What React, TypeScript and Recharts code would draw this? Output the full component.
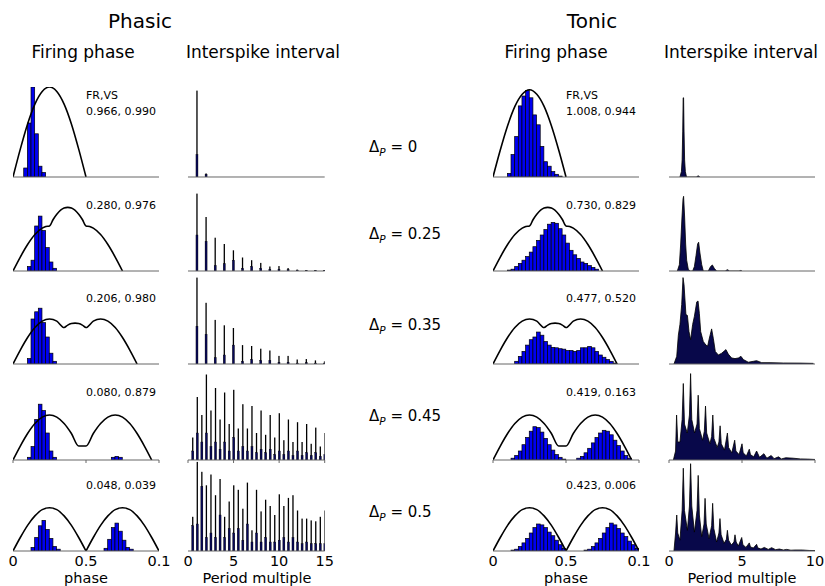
import React from "react";
import { ComposedChart, Bar, Line, Area, XAxis, YAxis } from "recharts";

const FONT = '"DejaVu Sans", "Liberation Sans", sans-serif';

// layout of the 5 rows (pixel baselines) and the 4 columns
const ROW_BASELINES = [177, 271, 364, 460, 551];
const PANEL_H = 90;
const PHASE_W = 146;
const PHASIC_PHASE_X = 13;
const TONIC_PHASE_X = 493;
const PHASIC_ISI_X = 188.3;
const PHASIC_ISI_W = 136.7;
const TONIC_ISI_X = 669;
const TONIC_ISI_W = 146;

const PHASE_TICKS = [0, 0.5, 1];
const PHASE_TICK_LABELS = ["0", "0.5", "0.1"];
const PHASIC_ISI_TICKS = [0, 5, 10, 15];
const TONIC_ISI_TICKS = [0, 5, 10];

const DELTA_VALUES = ["0", "0.25", "0.35", "0.45", "0.5"];
const DELTA_Y = [149, 236, 327, 418, 514];
const FRVS_Y = [111, 205, 298, 392, 485];
const PHASIC_FRVS = ["0.966, 0.990", "0.280, 0.976", "0.206, 0.980", "0.080, 0.879", "0.048, 0.039"];
const TONIC_FRVS = ["1.008, 0.944", "0.730, 0.829", "0.477, 0.520", "0.419, 0.163", "0.423, 0.006"];

// driving input curves, [phase, rate]
const DRIVE_0_P = [[0, 0], [0.05, 0.31], [0.1, 0.59], [0.15, 0.81], [0.2, 0.95], [0.25, 1.0], [0.3, 0.95], [0.35, 0.81], [0.4, 0.59], [0.45, 0.31], [0.5, 0]];
const DRIVE_0_T = [[0, 0], [0.05, 0.3], [0.1, 0.57], [0.15, 0.785], [0.2, 0.92], [0.25, 0.97], [0.3, 0.92], [0.35, 0.785], [0.4, 0.57], [0.45, 0.3], [0.5, 0]];
const DRIVE_25 = [[0, 0], [0.05, 0.155], [0.1, 0.294], [0.15, 0.405], [0.2, 0.476], [0.225, 0.494], [0.25, 0.5], [0.275, 0.572], [0.3, 0.63], [0.35, 0.699], [0.375, 0.707], [0.4, 0.699], [0.45, 0.63], [0.475, 0.572], [0.5, 0.5], [0.525, 0.494], [0.55, 0.476], [0.6, 0.405], [0.65, 0.294], [0.7, 0.155], [0.75, 0]];
const DRIVE_35 = [[0, 0], [0.05, 0.155], [0.1, 0.294], [0.15, 0.405], [0.2, 0.476], [0.25, 0.5], [0.3, 0.476], [0.35, 0.405], [0.375, 0.432], [0.4, 0.449], [0.425, 0.454], [0.45, 0.449], [0.475, 0.432], [0.5, 0.405], [0.55, 0.476], [0.6, 0.5], [0.65, 0.476], [0.7, 0.405], [0.75, 0.294], [0.8, 0.155], [0.85, 0]];
const DRIVE_45 = [[0, 0], [0.05, 0.155], [0.1, 0.294], [0.15, 0.405], [0.2, 0.476], [0.25, 0.5], [0.3, 0.476], [0.35, 0.405], [0.4, 0.294], [0.45, 0.155], [0.475, 0.156], [0.5, 0.155], [0.55, 0.294], [0.6, 0.405], [0.65, 0.476], [0.7, 0.5], [0.75, 0.476], [0.8, 0.405], [0.85, 0.294], [0.9, 0.155], [0.95, 0]];
const DRIVE_50_A = [[0, 0], [0.05, 0.15], [0.1, 0.285], [0.15, 0.39], [0.2, 0.46], [0.25, 0.48], [0.3, 0.46], [0.35, 0.39], [0.4, 0.285], [0.45, 0.15], [0.5, 0]];
const DRIVE_50_B = [[0.5, 0], [0.55, 0.15], [0.6, 0.285], [0.65, 0.39], [0.7, 0.46], [0.75, 0.48], [0.8, 0.46], [0.85, 0.39], [0.9, 0.285], [0.95, 0.15], [1, 0]];

// firing phase histograms, [bin centre, height]
const HIST_P0 = [[0.0875, 0.1], [0.1125, 0.6], [0.1375, 1.0], [0.1625, 0.48], [0.1875, 0.12], [0.2125, 0.05]];
const HIST_P25 = [[0.1125, 0.05], [0.1375, 0.12], [0.1625, 0.5], [0.1875, 0.61], [0.2125, 0.45], [0.2375, 0.26], [0.2625, 0.1], [0.2875, 0.03]];
const HIST_P35 = [[0.1125, 0.06], [0.1375, 0.5], [0.1625, 0.58], [0.1875, 0.62], [0.2125, 0.46], [0.2375, 0.3], [0.2625, 0.12], [0.2875, 0.03]];
const HIST_P45 = [[0.1125, 0.03], [0.1375, 0.15], [0.1625, 0.45], [0.1875, 0.62], [0.2125, 0.55], [0.2375, 0.3], [0.2625, 0.1], [0.2875, 0.03], [0.6875, 0.03], [0.7125, 0.04], [0.7375, 0.03]];
const HIST_P50 = [[0.1375, 0.04], [0.1625, 0.15], [0.1875, 0.28], [0.2125, 0.34], [0.2375, 0.24], [0.2625, 0.14], [0.2875, 0.05], [0.3125, 0.02], [0.6375, 0.03], [0.6625, 0.13], [0.6875, 0.26], [0.7125, 0.31], [0.7375, 0.22], [0.7625, 0.12], [0.7875, 0.04], [0.8125, 0.02]];

const HIST_T0 = [[0.1125, 0.04], [0.1375, 0.25], [0.1625, 0.45], [0.1875, 0.79], [0.2125, 0.9], [0.2375, 0.96], [0.2625, 0.88], [0.2875, 0.69], [0.3125, 0.58], [0.3375, 0.34], [0.3625, 0.17], [0.3875, 0.12], [0.4125, 0.06], [0.4375, 0.03], [0.4625, 0.01]];
const HIST_T25 = [[0.1125, 0.01], [0.1375, 0.02], [0.1625, 0.05], [0.1875, 0.085], [0.2125, 0.12], [0.2375, 0.16], [0.2625, 0.21], [0.2875, 0.27], [0.3125, 0.34], [0.3375, 0.4], [0.3625, 0.46], [0.3875, 0.52], [0.4125, 0.54], [0.4375, 0.53], [0.4625, 0.47], [0.4875, 0.4], [0.5125, 0.31], [0.5375, 0.23], [0.5625, 0.18], [0.5875, 0.14], [0.6125, 0.1], [0.6375, 0.085], [0.6625, 0.06], [0.6875, 0.04], [0.7125, 0.02]];
const HIST_T35 = [[0.1625, 0.03], [0.1875, 0.085], [0.2125, 0.14], [0.2375, 0.21], [0.2625, 0.27], [0.2875, 0.3], [0.3125, 0.355], [0.3375, 0.32], [0.3625, 0.25], [0.3875, 0.21], [0.4125, 0.185], [0.4375, 0.18], [0.4625, 0.17], [0.4875, 0.165], [0.5125, 0.15], [0.5375, 0.15], [0.5625, 0.14], [0.5875, 0.15], [0.6125, 0.18], [0.6375, 0.18], [0.6625, 0.195], [0.6875, 0.18], [0.7125, 0.14], [0.7375, 0.1], [0.7625, 0.075], [0.7875, 0.05], [0.8125, 0.03], [0.8375, 0.01]];
const HIST_T45 = [[0.1375, 0.02], [0.1625, 0.05], [0.1875, 0.1], [0.2125, 0.17], [0.2375, 0.25], [0.2625, 0.32], [0.2875, 0.37], [0.3125, 0.36], [0.3375, 0.31], [0.3625, 0.24], [0.3875, 0.17], [0.4125, 0.11], [0.4375, 0.06], [0.4625, 0.03], [0.4875, 0.01], [0.5875, 0.02], [0.6125, 0.04], [0.6375, 0.08], [0.6625, 0.13], [0.6875, 0.19], [0.7125, 0.25], [0.7375, 0.3], [0.7625, 0.33], [0.7875, 0.32], [0.8125, 0.28], [0.8375, 0.22], [0.8625, 0.16], [0.8875, 0.1], [0.9125, 0.05], [0.9375, 0.02]];
const HIST_T50 = [[0.1375, 0.01], [0.1625, 0.02], [0.1875, 0.05], [0.2125, 0.09], [0.2375, 0.14], [0.2625, 0.2], [0.2875, 0.26], [0.3125, 0.3], [0.3375, 0.29], [0.3625, 0.26], [0.3875, 0.21], [0.4125, 0.17], [0.4375, 0.12], [0.4625, 0.07], [0.4875, 0.03], [0.6375, 0.01], [0.6625, 0.02], [0.6875, 0.05], [0.7125, 0.09], [0.7375, 0.14], [0.7625, 0.2], [0.7875, 0.26], [0.8125, 0.31], [0.8375, 0.29], [0.8625, 0.25], [0.8875, 0.2], [0.9125, 0.16], [0.9375, 0.11], [0.9625, 0.07], [0.9875, 0.03]];

// phasic interspike intervals, [period multiple, peak, lower (blue) part]
const ISI_P0 = [[1, 0.96, 0.25], [2, 0.04, 0.03]];
const ISI_P25 = [[1, 0.86, 0.4], [2, 0.6, 0.33], [3, 0.37, 0.06], [4, 0.3, 0.08], [5, 0.23, 0.12], [6, 0.15, 0.03], [7, 0.12, 0.05], [8, 0.09, 0.03], [9, 0.05, 0.02], [10, 0.055, 0.02], [11, 0.033, 0.015], [12, 0.015, 0.01], [13, 0.011, 0.008], [14, 0.011, 0.008], [15, 0.011, 0.008]];
const ISI_P35 = [[1, 0.96, 0.42], [2, 0.68, 0.33], [3, 0.49, 0.07], [4, 0.43, 0.1], [5, 0.4, 0.21], [6, 0.21, 0.03], [7, 0.2, 0.05], [8, 0.17, 0.04], [9, 0.15, 0.04], [10, 0.09, 0.02], [11, 0.09, 0.02], [12, 0.05, 0.01], [13, 0.055, 0.015], [14, 0.04, 0.01], [15, 0.03, 0.01]];
const ISI_P45 = [[0.5, 0.25, 0.1], [1, 0.7, 0.3], [1.5, 0.5, 0.2], [2, 0.95, 0.3], [2.5, 0.55, 0.15], [3, 0.8, 0.2], [3.5, 0.45, 0.12], [4, 0.75, 0.2], [4.5, 0.4, 0.1], [5, 0.78, 0.25], [5.5, 0.35, 0.1], [6, 0.62, 0.15], [6.5, 0.35, 0.1], [7, 0.6, 0.15], [7.5, 0.3, 0.08], [8, 0.55, 0.12], [8.5, 0.28, 0.08], [9, 0.5, 0.12], [9.5, 0.25, 0.06], [10, 0.52, 0.1], [10.5, 0.22, 0.06], [11, 0.45, 0.1], [11.5, 0.2, 0.05], [12, 0.42, 0.1], [12.5, 0.2, 0.05], [13, 0.4, 0.08], [13.5, 0.18, 0.05], [14, 0.36, 0.08], [14.5, 0.15, 0.04], [15, 0.3, 0.06]];
const ISI_P50 = [[0.5, 0.38, 0.28], [1, 0.99, 0.3], [1.5, 0.88, 0.72], [2, 0.73, 0.15], [2.5, 0.85, 0.2], [3, 0.62, 0.15], [3.5, 0.8, 0.4], [4, 0.38, 0.15], [4.5, 0.55, 0.25], [5, 0.73, 0.2], [5.5, 0.68, 0.25], [6, 0.47, 0.12], [6.5, 0.76, 0.3], [7, 0.23, 0.1], [7.5, 0.68, 0.2], [8, 0.44, 0.1], [8.5, 0.57, 0.15], [9, 0.5, 0.1], [9.5, 0.4, 0.1], [10, 0.63, 0.12], [10.5, 0.5, 0.15], [11, 0.59, 0.1], [11.5, 0.62, 0.15], [12, 0.45, 0.1], [12.5, 0.36, 0.08], [13, 0.36, 0.1], [13.5, 0.34, 0.08], [14, 0.33, 0.08], [14.5, 0.38, 0.08], [15, 0.45, 0.08]];

// tonic interspike intervals, outline [period multiple, height]
const ISI_T0 = [[0.75, 0], [0.85, 0.06], [0.9, 0.19], [0.94, 0.51], [0.97, 0.88], [1.0, 0.88], [1.03, 0.51], [1.07, 0.19], [1.12, 0.06], [1.2, 0], [1.9, 0], [1.96, 0.012], [2.04, 0.012], [2.1, 0]];
const ISI_T25 = [[0.57, 0], [0.71, 0.07], [0.8, 0.3], [0.89, 0.6], [0.96, 0.8], [1.0, 0.83], [1.07, 0.6], [1.14, 0.3], [1.21, 0.12], [1.32, 0.02], [1.45, 0], [1.62, 0], [1.74, 0.05], [1.85, 0.17], [1.96, 0.3], [2.03, 0.32], [2.12, 0.2], [2.24, 0.07], [2.35, 0], [2.69, 0], [2.85, 0.05], [2.97, 0.067], [3.1, 0.03], [3.26, 0], [3.85, 0], [4.0, 0.015], [4.15, 0], [4.8, 0], [4.9, 0.006], [5.0, 0]];
const ISI_T35 = [[0.34, 0], [0.53, 0.085], [0.64, 0.32], [0.75, 0.44], [0.87, 0.66], [0.96, 0.96], [1.03, 0.88], [1.16, 0.55], [1.26, 0.54], [1.37, 0.36], [1.48, 0.27], [1.62, 0.44], [1.74, 0.53], [1.9, 0.69], [1.99, 0.7], [2.08, 0.56], [2.17, 0.36], [2.35, 0.25], [2.53, 0.21], [2.65, 0.2], [2.74, 0.27], [2.83, 0.33], [2.92, 0.39], [3.04, 0.28], [3.17, 0.14], [3.38, 0.1], [3.61, 0.12], [3.9, 0.16], [4.06, 0.11], [4.29, 0.067], [4.52, 0.06], [4.75, 0.067], [4.93, 0.085], [5.09, 0.05], [5.43, 0.02], [5.78, 0.03], [6.0, 0.037], [6.35, 0.015], [6.92, 0.015], [7.83, 0.011], [8.97, 0.01], [9.89, 0.007]];
const ISI_T45 = [[0.3, 0], [0.45, 0.1], [0.52, 0.5], [0.6, 0.2], [0.75, 0.2], [0.9, 0.45], [0.98, 0.85], [1.06, 0.4], [1.25, 0.3], [1.4, 0.5], [1.48, 0.96], [1.56, 0.45], [1.75, 0.3], [1.92, 0.4], [2.0, 0.72], [2.08, 0.35], [2.3, 0.22], [2.42, 0.32], [2.5, 0.6], [2.58, 0.3], [2.8, 0.18], [2.92, 0.26], [3.0, 0.5], [3.08, 0.24], [3.3, 0.14], [3.42, 0.2], [3.5, 0.38], [3.58, 0.18], [3.8, 0.11], [4.0, 0.3], [4.08, 0.14], [4.3, 0.08], [4.5, 0.22], [4.58, 0.1], [4.8, 0.06], [5.0, 0.18], [5.08, 0.08], [5.3, 0.045], [5.5, 0.12], [5.58, 0.06], [5.8, 0.035], [6.0, 0.1], [6.2, 0.03], [6.5, 0.07], [6.7, 0.02], [7.0, 0.05], [7.2, 0.015], [7.5, 0.035], [7.7, 0.012], [8.0, 0.025], [8.5, 0.02], [9.0, 0.012], [9.5, 0.01], [10, 0.006]];
const ISI_T50 = [[0.34, 0], [0.45, 0.2], [0.53, 0.4], [0.6, 0.2], [0.75, 0.12], [0.9, 0.45], [0.98, 0.92], [1.06, 0.45], [1.26, 0.23], [1.4, 0.5], [1.48, 0.97], [1.56, 0.5], [1.74, 0.21], [1.92, 0.45], [2.0, 0.84], [2.08, 0.4], [2.24, 0.16], [2.4, 0.3], [2.47, 0.585], [2.55, 0.3], [2.74, 0.14], [2.92, 0.28], [2.99, 0.53], [3.07, 0.25], [3.26, 0.1], [3.42, 0.2], [3.49, 0.36], [3.57, 0.18], [3.77, 0.085], [3.93, 0.13], [4.0, 0.23], [4.08, 0.12], [4.27, 0.067], [4.45, 0.1], [4.52, 0.18], [4.6, 0.1], [4.75, 0.055], [4.98, 0.15], [5.06, 0.07], [5.27, 0.04], [5.5, 0.09], [5.58, 0.045], [5.78, 0.033], [6.0, 0.074], [6.08, 0.035], [6.3, 0.022], [6.53, 0.04], [6.8, 0.018], [7.03, 0.037], [7.3, 0.015], [7.56, 0.022], [7.83, 0.011], [8.06, 0.018], [8.35, 0.009], [8.63, 0.011], [9.13, 0.011], [9.6, 0.006], [10, 0.005]];

const PHASIC_CURVES = [[DRIVE_0_P], [DRIVE_25], [DRIVE_35], [DRIVE_45], [DRIVE_50_A, DRIVE_50_B]];
const TONIC_CURVES = [[DRIVE_0_T], [DRIVE_25], [DRIVE_35], [DRIVE_45], [DRIVE_50_A, DRIVE_50_B]];
const PHASIC_HISTS = [HIST_P0, HIST_P25, HIST_P35, HIST_P45, HIST_P50];
const TONIC_HISTS = [HIST_T0, HIST_T25, HIST_T35, HIST_T45, HIST_T50];
const PHASIC_ISIS = [ISI_P0, ISI_P25, ISI_P35, ISI_P45, ISI_P50];
const TONIC_ISIS = [ISI_T0, ISI_T25, ISI_T35, ISI_T45, ISI_T50];

const BIN_PX = PHASE_W * 0.025;

function histShape(p: any) {
  const { x, y, width, height } = p;
  if (!(height > 0)) return <g />;
  const cx = x + width / 2;
  return <rect x={cx - BIN_PX / 2} y={y} width={BIN_PX} height={height} fill="#0000f0" stroke="#000" strokeWidth={0.7} />;
}

function spikeShape(p: any) {
  const { x, y, width, height, payload } = p;
  if (!(height > 0)) return <g />;
  const cx = x + width / 2;
  const mh = height * (payload.mid / payload.tall);
  return (
    <g>
      <rect x={cx - 0.65} y={y} width={1.3} height={height} fill="#000" />
      <rect x={cx - 1.0} y={y + height - mh} width={2.0} height={mh} fill="#08085a" stroke="#000" strokeWidth={0.4} />
    </g>
  );
}

type Mode = "line" | "ticks" | "labels";

function modeOf(row: number): Mode {
  if (row === 4) return "labels";
  if (row === 3) return "ticks";
  return "line";
}

function Panel({ left, width, baseline, domain, ticks, labels, mode, data, children }: any) {
  const m = { top: 4, right: 14, bottom: 0, left: 12 };
  const axisH = mode === "labels" ? 30 : 6;
  return (
    <div style={{ position: "absolute", left: left - m.left, top: baseline - PANEL_H - m.top }}>
      <ComposedChart width={width + m.left + m.right} height={m.top + PANEL_H + axisH} data={data} margin={m}>
        <XAxis
          dataKey="x"
          type="number"
          domain={domain}
          ticks={ticks}
          interval={0}
          allowDataOverflow
          height={axisH}
          axisLine={{ stroke: "#666", strokeWidth: 1 }}
          tickLine={mode === "ticks" ? { stroke: "#666" } : false}
          tickSize={3}
          tickMargin={2}
          tick={mode === "line" ? false : { fontSize: 14.5, fill: "#000", fontFamily: FONT }}
          tickFormatter={(v: number) => (mode === "labels" ? labels[ticks.indexOf(v)] : "")}
        />
        <YAxis hide domain={[0, 1]} allowDataOverflow />
        {children}
      </ComposedChart>
    </div>
  );
}

function phaseData(curves: number[][][], hist: number[][]) {
  const rows: any[] = [];
  curves.forEach((seg, i) => seg.forEach(([x, y]) => rows.push({ x, ["c" + i]: y })));
  hist.forEach(([x, h]) => rows.push({ x, hist: h }));
  return rows.sort((a, b) => a.x - b.x);
}

function PhasePanel({ left, row, curves, hist }: any) {
  return (
    <Panel left={left} width={PHASE_W} baseline={ROW_BASELINES[row]} domain={[0, 1]} ticks={PHASE_TICKS}
      labels={PHASE_TICK_LABELS} mode={modeOf(row)} data={phaseData(curves, hist)}>
      <Bar dataKey="hist" shape={histShape} isAnimationActive={false} />
      {curves.map((_: any, i: number) => (
        <Line key={i} type="monotone" dataKey={"c" + i} stroke="#000" strokeWidth={1.6} dot={false}
          connectNulls isAnimationActive={false} />
      ))}
    </Panel>
  );
}

function PhasicIsiPanel({ row, isi }: any) {
  const data = isi.map(([x, tall, mid]: number[]) => ({ x, tall, mid }));
  return (
    <Panel left={PHASIC_ISI_X} width={PHASIC_ISI_W} baseline={ROW_BASELINES[row]} domain={[0, 15]}
      ticks={PHASIC_ISI_TICKS} labels={PHASIC_ISI_TICKS.map(String)} mode={modeOf(row)} data={data}>
      <Bar dataKey="tall" shape={spikeShape} isAnimationActive={false} />
    </Panel>
  );
}

function TonicIsiPanel({ row, isi }: any) {
  const data = isi.map(([x, y]: number[]) => ({ x, y }));
  return (
    <Panel left={TONIC_ISI_X} width={TONIC_ISI_W} baseline={ROW_BASELINES[row]} domain={[0, 10]}
      ticks={TONIC_ISI_TICKS} labels={TONIC_ISI_TICKS.map(String)} mode={modeOf(row)} data={data}>
      <Area type="linear" dataKey="y" stroke="#000" strokeWidth={0.8} fill="#08084a" fillOpacity={1}
        isAnimationActive={false} />
    </Panel>
  );
}

function Txt({ x, y, size, children, align = "center" }: any) {
  return (
    <div
      style={{
        position: "absolute",
        left: x,
        top: y,
        transform: align === "center" ? "translate(-50%, -50%)" : "translate(0, -50%)",
        fontSize: size,
        lineHeight: 1,
        whiteSpace: "nowrap",
      }}
    >
      {children}
    </div>
  );
}

export default function App() {
  return (
    <div
      style={{
        position: "absolute",
        left: 0,
        top: 0,
        width: 825,
        height: 586,
        overflow: "hidden",
        background: "#fff",
        fontFamily: FONT,
        color: "#000",
      }}
    >
      <Txt x={140} y={21} size={20}>Phasic</Txt>
      <Txt x={592} y={21} size={20}>Tonic</Txt>
      <Txt x={83} y={52} size={17}>Firing phase</Txt>
      <Txt x={263} y={52} size={17}>Interspike interval</Txt>
      <Txt x={556} y={52} size={17}>Firing phase</Txt>
      <Txt x={741} y={52} size={17}>Interspike interval</Txt>

      <Txt x={86} y={95} size={11} align="left">FR,VS</Txt>
      <Txt x={566} y={95} size={11} align="left">FR,VS</Txt>
      {PHASIC_FRVS.map((s, i) => (
        <Txt key={"pf" + i} x={86} y={FRVS_Y[i]} size={11} align="left">{s}</Txt>
      ))}
      {TONIC_FRVS.map((s, i) => (
        <Txt key={"tf" + i} x={566} y={FRVS_Y[i]} size={11} align="left">{s}</Txt>
      ))}

      {DELTA_VALUES.map((d, i) => (
        <Txt key={"d" + i} x={369} y={DELTA_Y[i]} size={15} align="left">
          Δ<sub style={{ fontSize: "0.7em", fontStyle: "italic" }}>P</sub>
          <span>&nbsp;=&nbsp;{d}</span>
        </Txt>
      ))}

      {ROW_BASELINES.map((_, row) => (
        <React.Fragment key={row}>
          <PhasePanel left={PHASIC_PHASE_X} row={row} curves={PHASIC_CURVES[row]} hist={PHASIC_HISTS[row]} />
          <PhasicIsiPanel row={row} isi={PHASIC_ISIS[row]} />
          <PhasePanel left={TONIC_PHASE_X} row={row} curves={TONIC_CURVES[row]} hist={TONIC_HISTS[row]} />
          <TonicIsiPanel row={row} isi={TONIC_ISIS[row]} />
        </React.Fragment>
      ))}

      <Txt x={86} y={578} size={14.5}>phase</Txt>
      <Txt x={257} y={578} size={14.5}>Period multiple</Txt>
      <Txt x={566} y={578} size={14.5}>phase</Txt>
      <Txt x={742} y={578} size={14.5}>Period multiple</Txt>
    </div>
  );
}
